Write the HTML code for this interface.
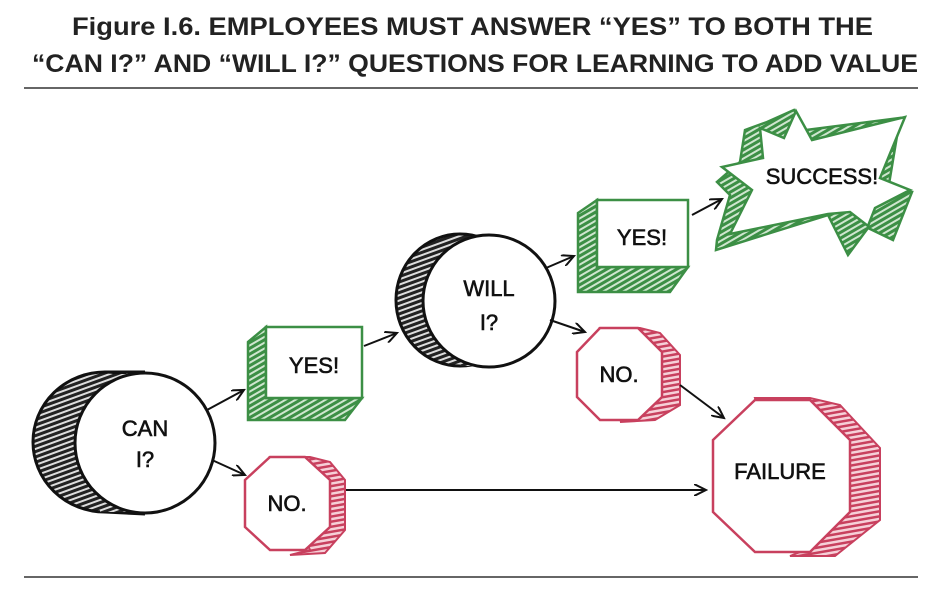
<!DOCTYPE html>
<html><head><meta charset="utf-8"><style>
html,body{margin:0;padding:0;background:#fff;width:950px;height:590px;overflow:hidden}
svg{display:block}
.t{font-family:"Liberation Sans",sans-serif;font-weight:bold;font-size:25px;fill:#222}
.h{font-family:"Liberation Sans",sans-serif;font-size:22px;fill:#111;stroke:#111;stroke-width:0.6}
</style></head><body>
<svg width="950" height="590" viewBox="0 0 950 590">
<defs>
<pattern id="hb" width="5" height="5" patternUnits="userSpaceOnUse" patternTransform="rotate(-20)"><rect width="5" height="5" fill="#ddd"/><rect width="5" height="3" fill="#222"/></pattern>
<pattern id="hg" width="5" height="5" patternUnits="userSpaceOnUse" patternTransform="rotate(60)"><rect width="5" height="5" fill="#cfe6cf"/><rect width="3" height="5" fill="#3c8f45"/></pattern>
<pattern id="hr" width="5" height="5" patternUnits="userSpaceOnUse" patternTransform="rotate(-10)"><rect width="5" height="5" fill="#f6d0d8"/><rect width="5" height="2.5" fill="#c8405e"/></pattern>
<marker id="a" markerWidth="14" markerHeight="12" refX="12" refY="6" orient="auto" markerUnits="userSpaceOnUse"><path d="M0,0 L12,6 L0,12" fill="none" stroke="#111" stroke-width="2"/></marker>
</defs>
<text class="t" x="72" y="35" textLength="801" lengthAdjust="spacingAndGlyphs">Figure I.6.    EMPLOYEES MUST ANSWER “YES” TO BOTH THE</text>
<text class="t" x="32" y="72" textLength="886" lengthAdjust="spacingAndGlyphs">“CAN I?” AND “WILL I?” QUESTIONS FOR LEARNING TO ADD VALUE</text>
<line x1="24" y1="88" x2="918" y2="88" stroke="#333" stroke-width="1.5"/>
<line x1="24" y1="577" x2="918" y2="577" stroke="#333" stroke-width="1.5"/>

<!-- CAN I -->
<ellipse cx="105" cy="442" rx="72" ry="70" fill="url(#hb)" stroke="#111" stroke-width="3"/>
<path d="M105,372 L145,372 M105,512 L145,514" stroke="#111" stroke-width="3"/>
<rect x="100" y="374" width="45" height="138" fill="url(#hb)"/>
<circle cx="145" cy="443" r="70" fill="#fff" stroke="#111" stroke-width="3"/>
<text class="h" x="145" y="436" text-anchor="middle" font-size="28">CAN</text>
<text class="h" x="145" y="467" text-anchor="middle" font-size="28">I?</text>

<!-- WILL I -->
<ellipse cx="460" cy="300" rx="64" ry="66" fill="url(#hb)" stroke="#111" stroke-width="3"/>
<rect x="460" y="236" width="30" height="130" fill="url(#hb)"/>
<circle cx="489" cy="301" r="66" fill="#fff" stroke="#111" stroke-width="3"/>
<text class="h" x="489" y="296" text-anchor="middle" font-size="28">WILL</text>
<text class="h" x="489" y="330" text-anchor="middle" font-size="28">I?</text>

<!-- YES1 -->
<polygon points="266,327 248,342 248,420 345,420 362,398 266,398" fill="url(#hg)" stroke="#3c8f45" stroke-width="2.5"/>
<rect x="266" y="327" width="96" height="71" fill="#fff" stroke="#3c8f45" stroke-width="2.5"/>
<text class="h" x="314" y="373" text-anchor="middle" font-size="28">YES!</text>

<!-- YES2 -->
<polygon points="597,200 578,213 578,292 670,292 688,267 597,267" fill="url(#hg)" stroke="#3c8f45" stroke-width="2.5"/>
<rect x="597" y="200" width="91" height="67" fill="#fff" stroke="#3c8f45" stroke-width="2.5"/>
<text class="h" x="642" y="245" text-anchor="middle" font-size="27">YES!</text>

<!-- SUCCESS -->
<polygon points="745,130 767,122 794,110 806,130 900,118 888,190 912,192 893,240 868,228 848,255 828,215 716,250 717,240 730,195 717,182 740,162" fill="url(#hg)" stroke="#3c8f45" stroke-width="2.5"/>
<polygon points="760,128 784,138 796,111 812,140 905,117 880,178 910,190 875,208 868,226 850,212 828,214 730,234 752,190 722,167 763,158" fill="#fff" stroke="#3c8f45" stroke-width="2.5"/>
<text class="h" x="822" y="184" text-anchor="middle" font-size="22">SUCCESS!</text>

<!-- NO1 -->
<polygon points="270,457 310,457 330,462 345,480 345,530 325,553 290,555 310,550" fill="url(#hr)" stroke="#c8405e" stroke-width="2"/>
<polygon points="270,457 305,457 330,480 330,527 305,550 270,550 245,527 245,480" fill="#fff" stroke="#c8405e" stroke-width="2.5"/>
<text class="h" x="287" y="511" text-anchor="middle" font-size="20">NO.</text>

<!-- NO2 -->
<polygon points="600,328 640,328 660,333 680,355 680,405 655,420 620,422 640,418" fill="url(#hr)" stroke="#c8405e" stroke-width="2"/>
<polygon points="600,328 638,328 662,352 662,397 638,420 600,420 577,397 577,352" fill="#fff" stroke="#c8405e" stroke-width="2.5"/>
<text class="h" x="619" y="382" text-anchor="middle" font-size="20">NO.</text>

<!-- FAILURE -->
<polygon points="755,398 810,398 840,405 880,448 880,520 835,556 790,556 805,550" fill="url(#hr)" stroke="#c8405e" stroke-width="2"/>
<polygon points="755,400 810,400 850,440 850,512 810,552 755,552 713,512 713,440" fill="#fff" stroke="#c8405e" stroke-width="2.5"/>
<text class="h" x="780" y="479" text-anchor="middle" font-size="23">FAILURE</text>

<!-- arrows -->
<g stroke="#111" stroke-width="2" fill="none" marker-end="url(#a)">
<line x1="207" y1="410" x2="244" y2="390"/>
<line x1="212" y1="460" x2="245" y2="475"/>
<line x1="364" y1="346" x2="397" y2="333"/>
<line x1="546" y1="268" x2="574" y2="256"/>
<line x1="550" y1="320" x2="585" y2="332"/>
<line x1="692" y1="215" x2="722" y2="199"/>
<line x1="680" y1="385" x2="724" y2="418"/>
<path d="M346,490 L706,490"/>
</g>
</svg>
</body></html>
